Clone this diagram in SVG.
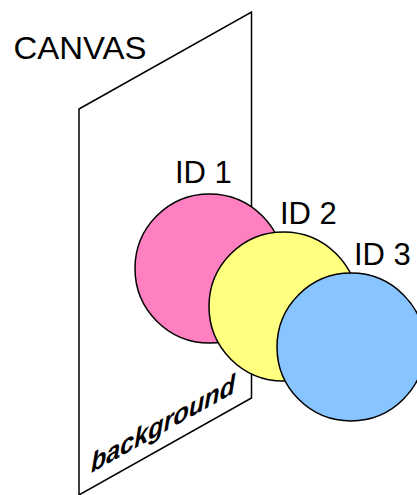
<svg xmlns="http://www.w3.org/2000/svg" width="417" height="495" viewBox="0 0 417 495">
<style>
.lbl{font-family:"Liberation Sans",Arial,sans-serif;font-size:31px;fill:#000}
.edge{fill:#fff;stroke:#000;stroke-width:1.5}
.c{stroke:#000;stroke-width:1.5}
</style>
<rect width="417" height="495" fill="#fff"/>
<g id="canvas">
<polygon class="edge" points="79,109 251.5,12 251.5,398 79,495"/>
<text class="lbl" x="13.5" y="59" textLength="133" lengthAdjust="spacingAndGlyphs">CANVAS</text>
<text transform="matrix(1,-0.561,0,1,91,473)" font-family="Liberation Sans,Arial,sans-serif" font-size="27" font-weight="bold" font-style="italic" textLength="144" lengthAdjust="spacingAndGlyphs">background</text>
</g>
<g id="id1">
<circle class="c" cx="209.5" cy="268.5" r="74.5" fill="#FF80C0"/>
<text class="lbl" x="175" y="183">ID 1</text>
</g>
<g id="id2">
<circle class="c" cx="283.5" cy="306.5" r="74.5" fill="#FFFF80"/>
<text class="lbl" x="280" y="224">ID 2</text>
</g>
<g id="id3">
<circle class="c" cx="351" cy="347" r="74" fill="#88C4FF"/>
<text class="lbl" x="354" y="265">ID 3</text>
</g>
<g id="connectors"></g>
</svg>
